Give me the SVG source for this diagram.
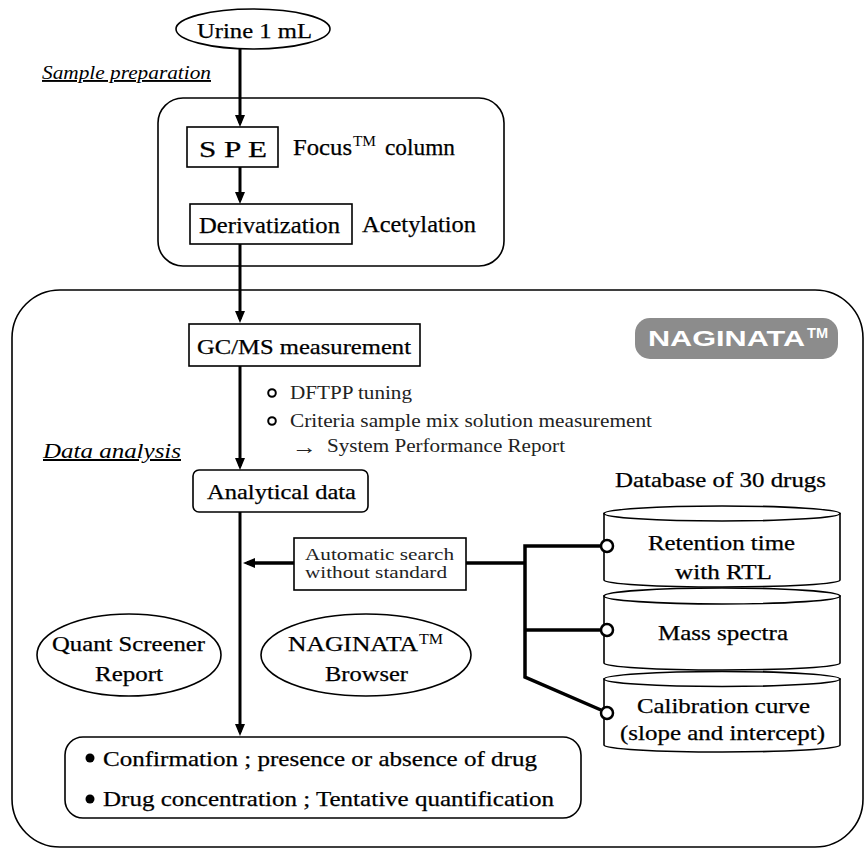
<svg xmlns="http://www.w3.org/2000/svg" width="866" height="849" viewBox="0 0 866 849">
<style>
.t{font-family:"Liberation Serif","Times New Roman",serif;fill:#000}
.h{stroke:#000;stroke-width:0.25}
.l{fill:#222}
.box{fill:#fff;stroke:#000;stroke-width:1.6}
.frame{fill:none;stroke:#000;stroke-width:1.6}
.line{fill:none;stroke:#000;stroke-width:3}
.thick{fill:none;stroke:#000;stroke-width:3.5}
.it{font-style:italic;text-decoration:underline}
</style>
<defs>
<marker id="arr" viewBox="0 0 12 12" refX="8" refY="6" markerUnits="userSpaceOnUse" markerWidth="12" markerHeight="12" orient="auto">
<path d="M0,1 L12,6 L0,11 z" fill="#000"/>
</marker>
</defs>
<rect width="866" height="849" fill="#fff"/>

<g id="frames">
<rect id="prep-frame" class="frame" x="158" y="98" width="346" height="168" rx="25"/>
<rect id="analysis-frame" class="frame" x="12" y="290" width="851" height="557" rx="48"/>
</g>

<g id="labels">
<text class="t it" x="42" y="79" font-size="19" textLength="169" lengthAdjust="spacingAndGlyphs">Sample preparation</text>
<text class="t it" x="43" y="458" font-size="20" textLength="138" lengthAdjust="spacingAndGlyphs">Data analysis</text>
</g>

<g id="connectors">
<line class="line" x1="240" y1="49" x2="240" y2="123" marker-end="url(#arr)"/>
<line class="line" x1="240" y1="167" x2="240" y2="200" marker-end="url(#arr)"/>
<line class="line" x1="240" y1="244" x2="240" y2="319" marker-end="url(#arr)"/>
<line class="line" x1="240" y1="366" x2="240" y2="466" marker-end="url(#arr)"/>
<line class="line" x1="240" y1="512" x2="240" y2="732" marker-end="url(#arr)"/>
<line class="thick" x1="294" y1="563" x2="247" y2="563" marker-end="url(#arr)"/>
<polyline class="thick" points="466,563 525,563"/>
<polyline class="thick" points="601,546 525,546 525,677 601,710"/>
<line class="thick" x1="525" y1="630" x2="601" y2="630"/>
</g>

<g id="urine">
<ellipse class="box" cx="253" cy="29" rx="77" ry="20"/>
<text class="t h" x="197" y="38" font-size="22" textLength="115" lengthAdjust="spacingAndGlyphs">Urine 1 mL</text>
</g>

<g id="spe">
<rect class="box" x="187" y="127" width="91" height="40"/>
<text class="t h" x="199" y="157" font-size="23" textLength="68" lengthAdjust="spacingAndGlyphs">S P E</text>
<text class="t h" x="293" y="155" font-size="23" textLength="59" lengthAdjust="spacingAndGlyphs">Focus</text>
<text class="t" x="353" y="146" font-size="14" textLength="23" lengthAdjust="spacingAndGlyphs">TM</text>
<text class="t h" x="385" y="155" font-size="23" textLength="70" lengthAdjust="spacingAndGlyphs">column</text>
</g>

<g id="derivatization">
<rect class="box" x="190" y="204" width="162" height="40"/>
<text class="t h" x="199" y="233" font-size="23" textLength="141" lengthAdjust="spacingAndGlyphs">Derivatization</text>
<text class="t h" x="362" y="232" font-size="23" textLength="114" lengthAdjust="spacingAndGlyphs">Acetylation</text>
</g>

<g id="naginata-badge">
<rect x="635" y="318" width="203" height="41" rx="15" fill="#8c8c8c"/>
<text x="648" y="346" font-family="Liberation Sans, Arial, sans-serif" font-weight="bold" font-size="22" fill="#fff" textLength="157" lengthAdjust="spacingAndGlyphs">NAGINATA</text>
<text x="807" y="338" font-family="Liberation Sans, Arial, sans-serif" font-weight="bold" font-size="14" fill="#fff" textLength="21" lengthAdjust="spacingAndGlyphs">TM</text>
</g>

<g id="gcms">
<rect class="box" x="189" y="324" width="231" height="42"/>
<text class="t h" x="197" y="354" font-size="21" textLength="214" lengthAdjust="spacingAndGlyphs">GC/MS measurement</text>
</g>

<g id="gcms-notes">
<circle cx="272" cy="393" r="3.8" fill="none" stroke="#000" stroke-width="2"/>
<text class="t l" x="290" y="399" font-size="18" textLength="122" lengthAdjust="spacingAndGlyphs">DFTPP tuning</text>
<circle cx="272" cy="421" r="3.8" fill="none" stroke="#000" stroke-width="2"/>
<text class="t l" x="290" y="427" font-size="18" textLength="362" lengthAdjust="spacingAndGlyphs">Criteria sample mix solution measurement</text>
<text class="t l" x="292" y="454" font-size="22" textLength="25" lengthAdjust="spacingAndGlyphs">→</text>
<text class="t l" x="327" y="452" font-size="18" textLength="238" lengthAdjust="spacingAndGlyphs">System Performance Report</text>
</g>

<g id="analytical-data">
<rect class="box" x="193" y="470" width="175" height="42" rx="6"/>
<text class="t h" x="207" y="499" font-size="21" textLength="149" lengthAdjust="spacingAndGlyphs">Analytical data</text>
</g>

<g id="auto-search">
<rect class="box" x="294" y="538" width="172" height="52" stroke-width="2.2"/>
<text class="t l" x="305" y="560" font-size="17" textLength="149" lengthAdjust="spacingAndGlyphs">Automatic search</text>
<text class="t l" x="305" y="578" font-size="17" textLength="142" lengthAdjust="spacingAndGlyphs">without standard</text>
</g>

<g id="database">
<text class="t h" x="615" y="487" font-size="21" textLength="211" lengthAdjust="spacingAndGlyphs">Database of 30 drugs</text>
<g id="db-retention">
<path class="box" d="M604,513.5 L604,580 A118,7 0 0 0 840,580 L840,513.5 Z"/>
<ellipse class="box" cx="722" cy="513.5" rx="118" ry="7.5"/>
<text class="t h" x="648" y="550" font-size="21" textLength="147" lengthAdjust="spacingAndGlyphs">Retention time</text>
<text class="t h" x="675" y="579" font-size="21" textLength="97" lengthAdjust="spacingAndGlyphs">with RTL</text>
</g>
<g id="db-mass">
<path class="box" d="M604,596 L604,663 A118,7 0 0 0 840,663 L840,596 Z"/>
<ellipse class="box" cx="722" cy="596" rx="118" ry="8"/>
<text class="t h" x="658" y="640" font-size="21" textLength="130" lengthAdjust="spacingAndGlyphs">Mass spectra</text>
</g>
<g id="db-calibration">
<path class="box" d="M604,679 L604,745 A118,7 0 0 0 840,745 L840,679 Z"/>
<ellipse class="box" cx="722" cy="679" rx="118" ry="7.5"/>
<text class="t h" x="637" y="713" font-size="21" textLength="173" lengthAdjust="spacingAndGlyphs">Calibration curve</text>
<text class="t h" x="620" y="740" font-size="21" textLength="205" lengthAdjust="spacingAndGlyphs">(slope and intercept)</text>
</g>
<circle cx="607" cy="546" r="6" fill="#fff" stroke="#000" stroke-width="2.5"/>
<circle cx="607" cy="630" r="6" fill="#fff" stroke="#000" stroke-width="2.5"/>
<circle cx="607" cy="713" r="6" fill="#fff" stroke="#000" stroke-width="2.5"/>
</g>

<g id="quant-screener">
<ellipse class="box" cx="129" cy="655" rx="92" ry="41"/>
<text class="t h" x="52" y="651" font-size="21" textLength="153" lengthAdjust="spacingAndGlyphs">Quant Screener</text>
<text class="t h" x="95" y="681" font-size="21" textLength="68" lengthAdjust="spacingAndGlyphs">Report</text>
</g>

<g id="naginata-browser">
<ellipse class="box" cx="366" cy="655" rx="105" ry="41"/>
<text class="t h" x="288" y="651" font-size="21" textLength="130" lengthAdjust="spacingAndGlyphs">NAGINATA</text>
<text class="t" x="419" y="644" font-size="14" textLength="24" lengthAdjust="spacingAndGlyphs">TM</text>
<text class="t h" x="325" y="681" font-size="21" textLength="83" lengthAdjust="spacingAndGlyphs">Browser</text>
</g>

<g id="results">
<rect class="box" x="65" y="737" width="516" height="81" rx="18"/>
<circle cx="90" cy="758" r="4.5" fill="#000"/>
<text class="t h" x="103" y="766" font-size="22" textLength="434" lengthAdjust="spacingAndGlyphs">Confirmation ; presence or absence of drug</text>
<circle cx="90" cy="799" r="4.5" fill="#000"/>
<text class="t h" x="103" y="806" font-size="22" textLength="451" lengthAdjust="spacingAndGlyphs">Drug concentration ; Tentative quantification</text>
</g>
</svg>
